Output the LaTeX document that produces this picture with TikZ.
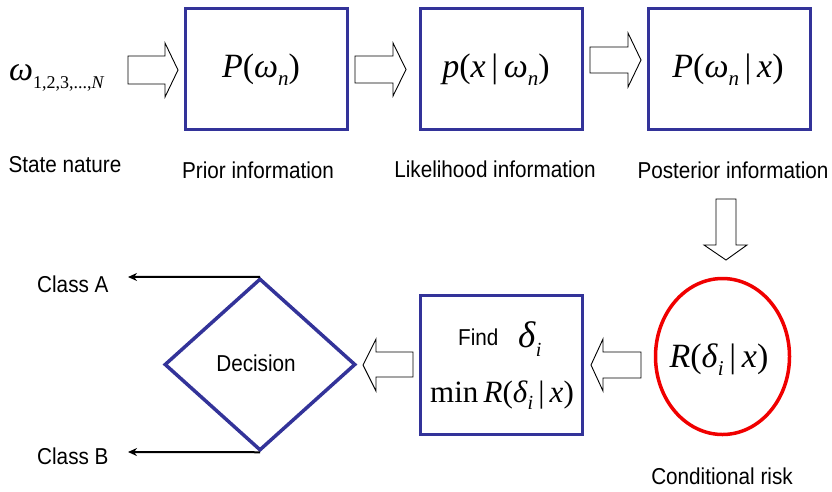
\documentclass[tikz,border=0pt]{standalone}
\usepackage{fontspec}
\setmainfont{Liberation Serif}
\newfontfamily\labfont{Liberation Sans}
\usetikzlibrary{shapes.geometric,arrows.meta}
\definecolor{boxblue}{RGB}{51,51,153}
\definecolor{riskred}{RGB}{240,0,0}
\newcommand\lo[2]{\raisebox{-0.25em}{\fontsize{#1}{#1}\selectfont #2}}
\newcommand\nar[1]{\scalebox{0.9}[1]{#1}}
\begin{document}
\begin{tikzpicture}[x=1pt,y=-1pt,
  box/.style={draw=boxblue,line width=3.5pt,minimum width=162pt,minimum height=121pt,inner sep=0pt},
  lab/.style={font=\labfont\fontsize{23}{23}\selectfont,inner sep=0pt,anchor=base},
  frm/.style={font=\fontsize{34}{34}\selectfont,inner sep=0pt,anchor=base},
  blockarrow/.style={draw=black,line width=0.9pt,fill=white,line join=miter},
  outarrow/.style={line width=2pt,-{Stealth[length=9pt,width=8pt]}}]
\useasboundingbox (0,0) rectangle (832,491);

% boxes
\node[box] (prior) at (266.5,69) {};
\node[box] (like) at (501.5,69) {};
\node[box] (post) at (729.5,69) {};
\node[box,minimum height=139pt] (find) at (501.5,365) {};
\node[draw=boxblue,line width=3.5pt,diamond,minimum width=191pt,minimum height=172pt,inner sep=0pt] (dec) at (260,364.5) {};
\node[draw=riskred,line width=3.5pt,ellipse,minimum width=134pt,minimum height=156pt,inner sep=0pt] (risk) at (722.5,356.5) {};

% formulas
\node[frm,anchor=base west] (omega) at (9,80) {\textit{ω}\lo{18}{1,2,3,...,\textit{N}}};
\node[frm] (fprior) at (261,77) {\textit{P}(\textit{ω}\lo{21}{\textit{n}})};
\node[frm] (flike) at (496,77) {\textit{p}(\textit{x}\,|\,\textit{ω}\lo{21}{\textit{n}})};
\node[frm] (fpost) at (728,77) {\textit{P}(\textit{ω}\lo{21}{\textit{n}}\,|\,\textit{x})};
\node[lab,anchor=base west] (findtxt) at (458,345) {\nar{Find}};
\node[frm,anchor=base west,font=\fontsize{37}{37}\selectfont] (fdelta) at (518,347) {\textit{δ}\lo{20}{\textit{i}}};
\node[frm,font=\fontsize{31}{31}\selectfont] (fmin) at (502,402) {min\,\textit{R}(\textit{δ}\lo{20}{\textit{i}}\,|\,\textit{x})};
\node[frm] (frisk) at (719,367) {\textit{R}(\textit{δ}\lo{21}{\textit{i}}\,|\,\textit{x})};

% labels
\node[lab] (l0) at (65,172) {\nar{State nature}};
\node[lab] (l1) at (258,178) {\nar{Prior information}};
\node[lab] (l2) at (495,177) {\nar{Likelihood information}};
\node[lab] (l3) at (733,178) {\nar{Posterior information}};
\node[lab] (ldec) at (256,371) {\nar{Decision}};
\node[lab] (lrisk) at (722,484) {\nar{Conditional risk}};
\node[lab,anchor=base west] (lA) at (37,292) {\nar{Class A}};
\node[lab,anchor=base west] (lB) at (37,464) {\nar{Class B}};

% block arrows
\draw[blockarrow] (128,56) -- (165,56) -- (165,43) -- (178,70) -- (165,97) -- (165,84) -- (128,84) -- cycle;
\draw[blockarrow] (355,56) -- (393,56) -- (393,43) -- (406,69.5) -- (393,96) -- (393,83) -- (355,83) -- cycle;
\draw[blockarrow] (590,47) -- (628,47) -- (628,33) -- (641,60) -- (628,87) -- (628,73) -- (590,73) -- cycle;
\draw[blockarrow] (716,199) -- (736,199) -- (736,245) -- (747,245) -- (726,260) -- (704,245) -- (716,245) -- cycle;
\draw[blockarrow] (641,352) -- (603,352) -- (603,339) -- (591,365) -- (603,391) -- (603,378) -- (641,378) -- cycle;
\draw[blockarrow] (413,352) -- (376,352) -- (376,339) -- (363,365) -- (376,391) -- (376,377) -- (413,377) -- cycle;

% output arrows
\coordinate (ca) at (128,277);
\coordinate (cb) at (128,452);
\draw[outarrow] (dec.north) -- (ca);
\draw[outarrow] (dec.south) -- (cb);
\end{tikzpicture}
\end{document}
